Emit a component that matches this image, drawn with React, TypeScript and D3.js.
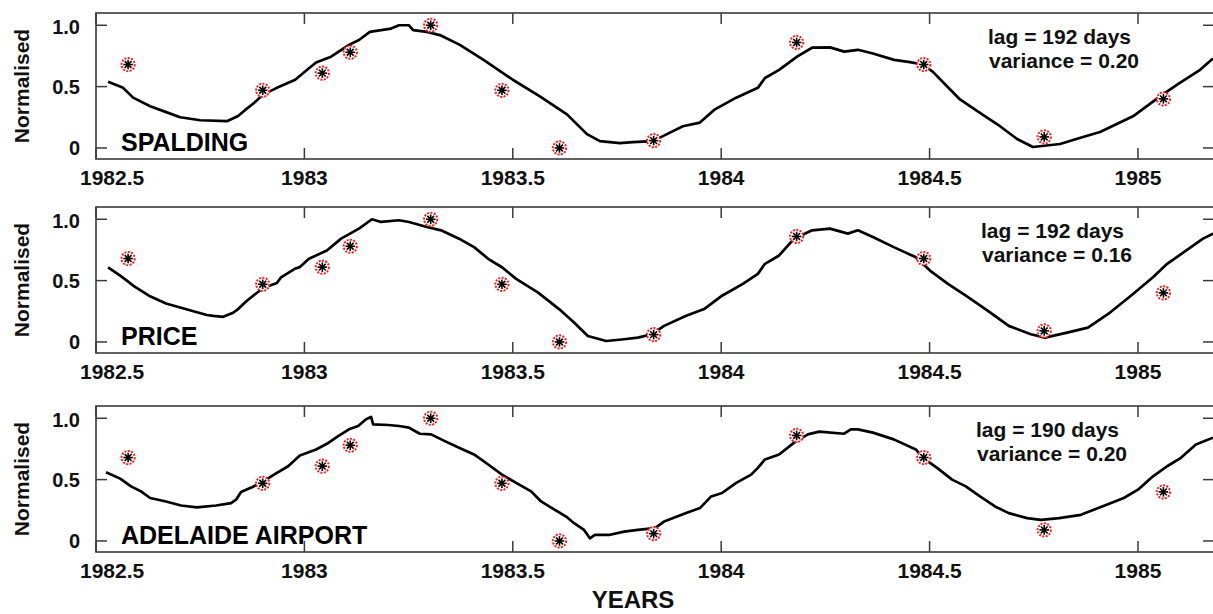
import React from 'react';
import * as d3 from 'd3';

// normalised model output, [year, value]
const spalding: [number, number][] = [
  [1982.529, 0.54], [1982.565, 0.49], [1982.589, 0.41], [1982.63, 0.34], [1982.67, 0.29],
  [1982.702, 0.25], [1982.75, 0.226], [1982.814, 0.218], [1982.841, 0.26], [1982.858, 0.31],
  [1982.877, 0.36], [1982.901, 0.435], [1982.934, 0.49], [1982.978, 0.556], [1983.011, 0.65],
  [1983.028, 0.696], [1983.064, 0.744], [1983.107, 0.84], [1983.131, 0.88], [1983.157, 0.946],
  [1983.184, 0.96], [1983.208, 0.973], [1983.227, 1.0], [1983.251, 1.0], [1983.261, 0.96],
  [1983.294, 0.946], [1983.325, 0.92], [1983.373, 0.84], [1983.429, 0.72], [1983.5, 0.556],
  [1983.565, 0.42], [1983.63, 0.274], [1983.678, 0.113], [1983.709, 0.056], [1983.757, 0.04],
  [1983.788, 0.048], [1983.836, 0.056], [1983.87, 0.113], [1983.908, 0.177], [1983.949, 0.207],
  [1983.985, 0.315], [1984.036, 0.41], [1984.088, 0.49], [1984.105, 0.57], [1984.139, 0.637],
  [1984.182, 0.744], [1984.218, 0.817], [1984.261, 0.82], [1984.295, 0.785], [1984.328, 0.8],
  [1984.364, 0.77], [1984.415, 0.718], [1984.453, 0.7], [1984.484, 0.68], [1984.508, 0.62],
  [1984.573, 0.395], [1984.628, 0.27], [1984.669, 0.177], [1984.71, 0.073], [1984.748, 0.008],
  [1984.813, 0.032], [1984.868, 0.089], [1984.909, 0.13], [1984.988, 0.258], [1985.053, 0.42],
  [1985.094, 0.516], [1985.149, 0.637], [1985.18, 0.73],
];

const price: [number, number][] = [
  [1982.529, 0.607], [1982.558, 0.54], [1982.574, 0.5], [1982.589, 0.46], [1982.627, 0.377],
  [1982.668, 0.314], [1982.721, 0.262], [1982.766, 0.22], [1982.781, 0.213], [1982.805, 0.205],
  [1982.829, 0.238], [1982.841, 0.268], [1982.862, 0.336], [1982.901, 0.44], [1982.934, 0.48],
  [1982.944, 0.527], [1982.977, 0.596], [1982.989, 0.61], [1983.011, 0.678], [1983.054, 0.746],
  [1983.088, 0.842], [1983.131, 0.924], [1983.162, 1.0], [1983.184, 0.978], [1983.227, 0.992],
  [1983.251, 0.978], [1983.294, 0.937], [1983.328, 0.91], [1983.371, 0.842], [1983.407, 0.773],
  [1983.441, 0.678], [1983.474, 0.609], [1983.508, 0.514], [1983.56, 0.404], [1983.611, 0.268],
  [1983.647, 0.158], [1983.68, 0.049], [1983.724, 0.008], [1983.767, 0.022], [1983.8, 0.035],
  [1983.834, 0.063], [1983.863, 0.131], [1983.916, 0.213], [1983.959, 0.268], [1984.002, 0.377],
  [1984.052, 0.473], [1984.088, 0.555], [1984.105, 0.637], [1984.139, 0.705], [1984.175, 0.842],
  [1984.218, 0.91], [1984.261, 0.924], [1984.304, 0.883], [1984.328, 0.91], [1984.364, 0.855],
  [1984.414, 0.773], [1984.467, 0.691], [1984.501, 0.582], [1984.544, 0.473], [1984.587, 0.377],
  [1984.64, 0.254], [1984.69, 0.131], [1984.743, 0.063], [1984.777, 0.035], [1984.83, 0.076],
  [1984.88, 0.117], [1984.933, 0.24], [1984.983, 0.377], [1985.036, 0.527], [1985.07, 0.637],
  [1985.122, 0.76], [1985.156, 0.842], [1985.18, 0.883],
];

const adelaide: [number, number][] = [
  [1982.524, 0.56], [1982.558, 0.508], [1982.584, 0.445], [1982.608, 0.404], [1982.63, 0.35],
  [1982.668, 0.322], [1982.704, 0.289], [1982.742, 0.273], [1982.788, 0.289], [1982.824, 0.309],
  [1982.836, 0.336], [1982.848, 0.399], [1982.874, 0.437], [1982.901, 0.486], [1982.934, 0.555],
  [1982.961, 0.609], [1982.989, 0.697], [1983.028, 0.746], [1983.054, 0.792], [1983.081, 0.855],
  [1983.107, 0.91], [1983.129, 0.937], [1983.148, 0.992], [1983.16, 1.011], [1983.165, 0.951],
  [1983.201, 0.945], [1983.227, 0.937], [1983.251, 0.924], [1983.265, 0.896], [1983.277, 0.874],
  [1983.304, 0.869], [1983.337, 0.814], [1983.371, 0.76], [1983.407, 0.705], [1983.441, 0.623],
  [1983.474, 0.541], [1983.508, 0.473], [1983.544, 0.404], [1983.568, 0.322], [1983.594, 0.268],
  [1983.628, 0.199], [1983.647, 0.145], [1983.671, 0.09], [1983.685, 0.022], [1983.697, 0.049],
  [1983.731, 0.049], [1983.767, 0.076], [1983.8, 0.09], [1983.841, 0.104], [1983.863, 0.158],
  [1983.916, 0.227], [1983.949, 0.268], [1983.976, 0.363], [1984.002, 0.391], [1984.036, 0.473],
  [1984.072, 0.541], [1984.088, 0.596], [1984.105, 0.664], [1984.139, 0.705], [1984.175, 0.801],
  [1984.208, 0.869], [1984.235, 0.891], [1984.295, 0.874], [1984.311, 0.91], [1984.328, 0.91],
  [1984.364, 0.883], [1984.414, 0.828], [1984.467, 0.746], [1984.484, 0.678], [1984.518, 0.596],
  [1984.554, 0.5], [1984.587, 0.445], [1984.621, 0.363], [1984.657, 0.281], [1984.69, 0.227],
  [1984.734, 0.186], [1984.767, 0.172], [1984.811, 0.186], [1984.863, 0.213], [1984.914, 0.281],
  [1984.966, 0.35], [1985.0, 0.418], [1985.036, 0.527], [1985.07, 0.609], [1985.103, 0.678],
  [1985.139, 0.787], [1985.18, 0.842],
];

// observed points, same in every panel
const OBS_YEARS = [1982.577, 1982.9, 1983.043, 1983.11, 1983.303, 1983.474, 1983.612, 1983.838, 1984.181, 1984.486, 1984.775, 1985.061];
const OBS_VALUES = [0.68, 0.47, 0.61, 0.78, 1.0, 0.47, 0.0, 0.06, 0.86, 0.68, 0.09, 0.4];

const X_TICKS = [1982.5, 1983, 1983.5, 1984, 1984.5, 1985];
const Y_TICKS = [0, 0.5, 1.0];
const Y_TICK_LABELS = ['0', '0.5', '1.0'];

const STATIONS = ['SPALDING', 'PRICE', 'ADELAIDE AIRPORT'];
const LAGS = ['lag = 192 days', 'lag = 192 days', 'lag = 190 days'];
const VARIANCES = ['variance = 0.20', 'variance = 0.16', 'variance = 0.20'];
const SERIES = [spalding, price, adelaide];

const W = 1213;
const H = 614;
const PANEL_TOPS = [13, 207, 406];
const PANEL_H = 146;
const STAT_X = [988, 981, 976];
const FONT = '"Liberation Sans", Arial, sans-serif';
const FRAME = '#3a3a3a';

const x = d3.scaleLinear().domain([1982.5, 1985.18]).range([96, 1213]);

function Marker({ cx, cy }: { cx: number; cy: number }) {
  const r = 4.8;
  return (
    <g transform={`translate(${cx},${cy})`}>
      <circle r={6.6} fill="#fff" stroke="#ff1a1a" strokeWidth={2} strokeDasharray="2 1.4" />
      {[0, 45, 90, 135].map((a) => (
        <line
          key={a}
          x1={-r * Math.cos((a * Math.PI) / 180)}
          y1={-r * Math.sin((a * Math.PI) / 180)}
          x2={r * Math.cos((a * Math.PI) / 180)}
          y2={r * Math.sin((a * Math.PI) / 180)}
          stroke="#000"
          strokeWidth={1.6}
        />
      ))}
      <circle r={1.8} fill="#000" />
    </g>
  );
}

function Panel({ i }: { i: number }) {
  const top = PANEL_TOPS[i];
  const bottom = top + PANEL_H;
  const y = d3.scaleLinear().domain([-0.09, 1.1]).range([bottom, top]);
  const left = x.range()[0];
  const right = x.range()[1] + 1;
  const path = d3
    .line<[number, number]>()
    .x((d) => x(d[0]))
    .y((d) => y(d[1]))(SERIES[i]);
  const tl = 11;

  return (
    <g>
      <rect x={left} y={top} width={right - left} height={PANEL_H} fill="none" stroke={FRAME} strokeWidth={1.6} />
      {X_TICKS.map((t) => (
        <g key={t}>
          <line x1={x(t)} x2={x(t)} y1={top} y2={top + tl} stroke={FRAME} strokeWidth={1.5} />
          <line x1={x(t)} x2={x(t)} y1={bottom} y2={bottom - tl} stroke={FRAME} strokeWidth={1.5} />
          <text
            x={x(t)}
            y={bottom + 26}
            dx={t === X_TICKS[0] ? -16 : 0}
            textAnchor={t === X_TICKS[0] ? 'start' : 'middle'}
            fontFamily={FONT}
            fontWeight="bold"
            fontSize={21}
            fill="#111"
          >
            {t}
          </text>
        </g>
      ))}
      {Y_TICKS.map((t, k) => (
        <g key={t}>
          <line x1={left} x2={left + tl} y1={y(t)} y2={y(t)} stroke={FRAME} strokeWidth={1.5} />
          <line x1={right} x2={right - tl} y1={y(t)} y2={y(t)} stroke={FRAME} strokeWidth={1.5} />
          <text
            x={80}
            y={y(t) + 7 + (t === 1 ? 2 : 0)}
            textAnchor="end"
            fontFamily={FONT}
            fontWeight="bold"
            fontSize={20}
            fill="#111"
          >
            {Y_TICK_LABELS[k]}
          </text>
        </g>
      ))}
      <text
        transform={`translate(29,${(top + bottom) / 2}) rotate(-90)`}
        textAnchor="middle"
        fontFamily={FONT}
        fontWeight="bold"
        fontSize={21}
        fill="#111"
      >
        Normalised
      </text>
      <path d={path || ''} fill="none" stroke="#000" strokeWidth={2.7} strokeLinejoin="round" />
      {OBS_YEARS.map((t, k) => (
        <Marker key={t} cx={x(t)} cy={y(OBS_VALUES[k])} />
      ))}
      <text x={121} y={y(0) + 3} fontFamily={FONT} fontWeight="bold" fontSize={25} fill="#000">
        {STATIONS[i]}
      </text>
      <text x={STAT_X[i]} y={top + 31} fontFamily={FONT} fontWeight="bold" fontSize={21} fill="#111">
        {LAGS[i]}
      </text>
      <text x={STAT_X[i] + 1} y={top + 55} fontFamily={FONT} fontWeight="bold" fontSize={21} fill="#111">
        {VARIANCES[i]}
      </text>
    </g>
  );
}

export default function App() {
  return (
    <svg
      width={W}
      height={H}
      viewBox={`0 0 ${W} ${H}`}
      style={{ position: 'absolute', left: 0, top: 0, background: '#fff' }}
    >
      <rect width={W} height={H} fill="#fff" />
      {STATIONS.map((s, i) => (
        <Panel key={s} i={i} />
      ))}
      <text x={633} y={608} textAnchor="middle" fontFamily={FONT} fontWeight="bold" fontSize={24} fill="#111">
        YEARS
      </text>
    </svg>
  );
}
